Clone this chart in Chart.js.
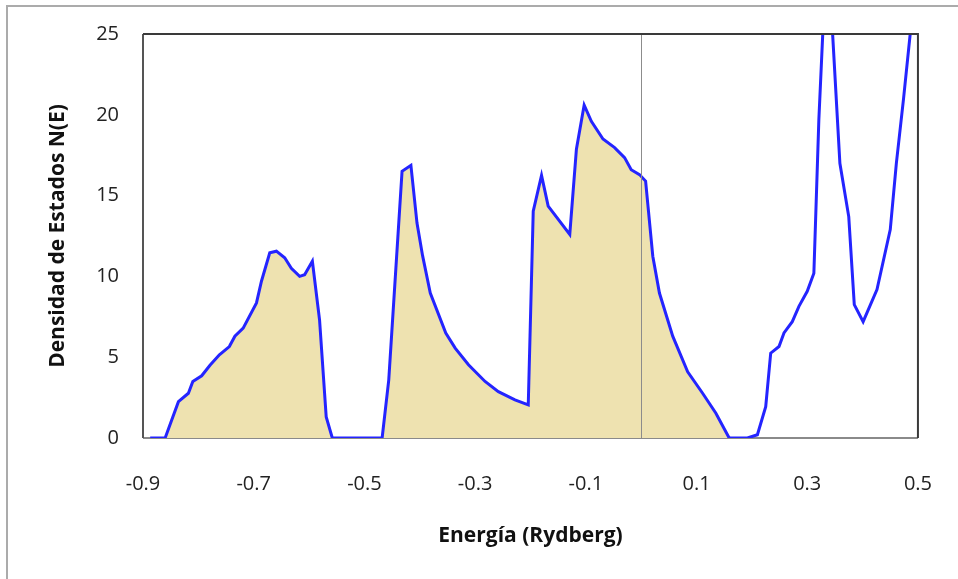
<!DOCTYPE html>
<html>
<head>
<meta charset="utf-8">
<script src="https://cdn.jsdelivr.net/npm/chart.js@4.4.1/dist/chart.umd.min.js"></script>
<style>
  body { margin: 0; background: #fff; }
  #wrap { width: 958px; height: 579px; }
</style>
</head>
<body>
<div id="wrap"><canvas id="grafico" width="958" height="579"></canvas></div>
<script>
// Estados ocupados (rellenos) hasta que la curva vuelve a cero
const energiaOcupada = [-0.887, -0.860, -0.836, -0.818, -0.810, -0.794, -0.779, -0.762, -0.744, -0.734,
  -0.719, -0.695, -0.686, -0.671, -0.659, -0.644, -0.632, -0.617, -0.608, -0.594, -0.581, -0.569, -0.558,
  -0.468, -0.456, -0.432, -0.416, -0.405, -0.395, -0.381, -0.353, -0.336, -0.312, -0.282, -0.258, -0.228,
  -0.204, -0.195, -0.180, -0.168, -0.129, -0.117, -0.103, -0.090, -0.069, -0.048, -0.030, -0.018, -0.003,
  0.008, 0.021, 0.033, 0.057, 0.084, 0.111, 0.135, 0.159];
const densidadOcupada = [0, 0, 2.25, 2.77, 3.5, 3.85, 4.5, 5.15, 5.66, 6.3,
  6.8, 8.36, 9.7, 11.46, 11.56, 11.15, 10.5, 10.0, 10.1, 10.94, 7.3, 1.3, 0,
  0, 3.6, 16.5, 16.87, 13.3, 11.3, 8.97, 6.5, 5.56, 4.53, 3.5, 2.87, 2.36,
  2.05, 14.04, 16.25, 14.35, 12.6, 17.87, 20.6, 19.6, 18.5, 17.97, 17.35, 16.6, 16.3,
  15.9, 11.25, 8.97, 6.3, 4.1, 2.77, 1.53, 0];

// Estados vacíos (sin relleno)
const energiaVacia = [0.159, 0.192, 0.210, 0.225, 0.234, 0.249, 0.258, 0.273, 0.285, 0.300, 0.312,
  0.321, 0.336, 0.359, 0.375, 0.385, 0.401, 0.426, 0.450, 0.461, 0.474, 0.486, 0.498];
const densidadVacia = [0, 0, 0.2, 1.94, 5.25, 5.66, 6.5, 7.2, 8.15, 9.08, 10.2,
  19.7, 31, 17.0, 13.7, 8.25, 7.2, 9.18, 12.9, 17.0, 21.0, 25.0, 29.0];

const ticksEnergia = [-0.9, -0.7, -0.5, -0.3, -0.1, 0.1, 0.3, 0.5];
const ticksDensidad = [0, 5, 10, 15, 20, 25];

const aPuntos = (xs, ys) => xs.map((x, i) => ({ x: x, y: ys[i] }));

// Marco exterior, borde del área de trazado y línea vertical en E = 0
const decoracion = {
  id: 'decoracion',
  beforeDraw(chart) {
    const ctx = chart.ctx;
    ctx.save();
    ctx.strokeStyle = '#ababab';
    ctx.lineWidth = 2;
    ctx.beginPath();
    ctx.moveTo(7, 579);
    ctx.lineTo(7, 6);
    ctx.lineTo(958, 6);
    ctx.stroke();
    ctx.restore();
  },
  beforeDatasetsDraw(chart) {
    const { ctx, chartArea: a } = chart;
    ctx.save();
    ctx.strokeStyle = '#8a8a8a';
    ctx.lineWidth = 2;
    ctx.beginPath();
    ctx.moveTo(a.left, a.bottom);
    ctx.lineTo(a.right, a.bottom);
    ctx.stroke();
    ctx.restore();
  },
  afterDatasetsDraw(chart) {
    const { ctx, chartArea: a, scales } = chart;
    ctx.save();
    const x0 = Math.round(scales.x.getPixelForValue(0)) + 0.5;
    ctx.strokeStyle = '#8c8c8c';
    ctx.lineWidth = 1;
    ctx.beginPath();
    ctx.moveTo(x0, a.top);
    ctx.lineTo(x0, a.bottom);
    ctx.stroke();
    ctx.lineWidth = 2;
    ctx.strokeStyle = '#555';
    ctx.beginPath();
    ctx.moveTo(a.left, a.bottom);
    ctx.lineTo(a.left, a.top);
    ctx.stroke();
    ctx.strokeStyle = '#3a3a3a';
    ctx.beginPath();
    ctx.moveTo(a.left, a.top);
    ctx.lineTo(a.right, a.top);
    ctx.lineTo(a.right, a.bottom);
    ctx.stroke();
    ctx.restore();
  }
};

new Chart(document.getElementById('grafico'), {
  type: 'line',
  data: {
    datasets: [
      {
        data: aPuntos(energiaOcupada, densidadOcupada),
        borderColor: '#2424ff',
        borderWidth: 3,
        backgroundColor: '#eee2b0',
        fill: 'origin',
        pointRadius: 0,
        tension: 0
      },
      {
        data: aPuntos(energiaVacia, densidadVacia),
        borderColor: '#2424ff',
        borderWidth: 3,
        fill: false,
        pointRadius: 0,
        tension: 0
      }
    ]
  },
  options: {
    responsive: false,
    animation: false,
    devicePixelRatio: 1,
    layout: { autoPadding: false, padding: { top: 34, right: 37, left: 0, bottom: 0 } },
    plugins: { legend: { display: false }, tooltip: { enabled: false } },
    scales: {
      x: {
        type: 'linear',
        min: -0.9,
        max: 0.5,
        afterFit(s) { s.height = 141; },
        afterBuildTicks(s) { s.ticks = ticksEnergia.map(v => ({ value: v })); },
        grid: { display: false },
        border: { display: false },
        ticks: {
          padding: 26,
          color: '#222',
          font: { family: 'Open Sans', size: 20 },
          callback: v => v.toFixed(1)
        },
        title: {
          display: true,
          text: 'Energía (Rydberg)',
          color: '#111',
          font: { family: 'Open Sans', size: 21, weight: 'bold' },
          padding: { top: 0, bottom: 30 }
        }
      },
      y: {
        min: 0,
        max: 25,
        afterFit(s) { s.width = 143; },
        afterBuildTicks(s) { s.ticks = ticksDensidad.map(v => ({ value: v })); },
        grid: { display: false },
        border: { display: false },
        ticks: {
          padding: 16,
          color: '#222',
          font: { family: 'Open Sans', size: 20 }
        },
        title: {
          display: true,
          text: 'Densidad de Estados N(E)',
          color: '#111',
          font: { family: 'Open Sans', size: 21, weight: 'bold' },
          padding: { top: 45, bottom: 0 }
        }
      }
    }
  },
  plugins: [decoracion]
});
</script>
</body>
</html>
